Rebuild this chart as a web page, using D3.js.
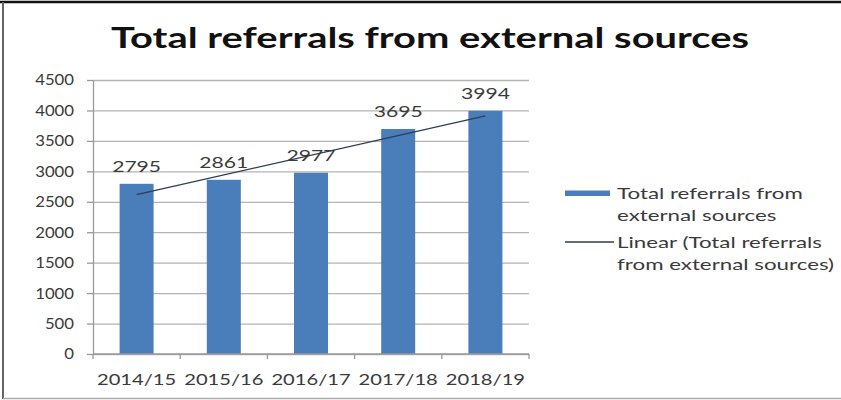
<!DOCTYPE html>
<html>
<head>
<meta charset="utf-8">
<script src="https://cdn.jsdelivr.net/npm/d3@7"></script>
<style>
  html, body { margin: 0; padding: 0; background: #fff; }
  svg { display: block; font-family: Lato, "Open Sans", sans-serif; }
</style>
</head>
<body>
<div id="chart"></div>
<script>
"use strict";

const years = ["2014/15", "2015/16", "2016/17", "2017/18", "2018/19"];
const referrals = [2795, 2861, 2977, 3695, 3994];
const yTicks = [0, 500, 1000, 1500, 2000, 2500, 3000, 3500, 4000, 4500];
const legendLabels = [
  ["Total referrals from", "external sources"],
  ["Linear (Total referrals", "from external sources)"],
];

const width = 841;
const height = 400;
const plot = { left: 93, right: 529, top: 80, bottom: 354 };
const barColor = "#4a7ebb";
const trendColor = "#2e3d50";
const textColor = "#3a3a3a";
// the source picture is stretched sideways, so text is widened to match
const stretch = 1.36;
const yLabelStretch = 1.08;

const svg = d3.select("#chart")
  .append("svg")
  .attr("width", width)
  .attr("height", height);

function wideText(parent, px, py, str, opts) {
  return parent.append("text")
    .attr("transform", `translate(${px},${py}) scale(${opts.scale || stretch},1)`)
    .attr("text-anchor", opts.anchor || "start")
    .attr("font-size", opts.size || 15.5)
    .attr("font-weight", opts.weight || 400)
    .attr("fill", opts.fill || textColor)
    .text(str);
}

// outer frame
svg.append("line").attr("x1", 0).attr("x2", width).attr("y1", 2).attr("y2", 2)
  .attr("stroke", "#111").attr("stroke-width", 2.5);
svg.append("line").attr("x1", 3).attr("x2", 3).attr("y1", 2).attr("y2", 399)
  .attr("stroke", "#666").attr("stroke-width", 2);
svg.append("line").attr("x1", 3).attr("x2", width).attr("y1", 398.5).attr("y2", 398.5)
  .attr("stroke", "#aaa").attr("stroke-width", 1.5);

wideText(svg, 430, 48, "Total referrals from external sources",
  { anchor: "middle", size: 28.5, weight: 700, fill: "#111", scale: 1.4 });

const x = d3.scaleBand()
  .domain(years)
  .range([plot.left, plot.right])
  .paddingInner(0.61)
  .paddingOuter(0.305);

const y = d3.scaleLinear()
  .domain([0, 4500])
  .range([plot.bottom, plot.top]);

// gridlines
svg.append("g")
  .attr("transform", `translate(${plot.left},0)`)
  .call(d3.axisLeft(y).tickValues(yTicks).tickSize(-(plot.right - plot.left)).tickFormat(""))
  .call((axis) => axis.select(".domain").remove())
  .call((axis) => axis.selectAll("line").attr("stroke", "#b4b4b4").attr("stroke-width", 1.3));

// y axis line, ticks and labels
const labelGap = 19;
svg.append("g")
  .attr("transform", `translate(${plot.left},0)`)
  .call(d3.axisLeft(y).tickValues(yTicks).tickSize(6).tickSizeOuter(0).tickFormat(d3.format("d")))
  .call((axis) => axis.select(".domain").attr("stroke", "#999").attr("stroke-width", 1.3))
  .call((axis) => axis.selectAll("line").attr("stroke", "#999").attr("stroke-width", 1.3))
  .call((axis) => axis.selectAll("text")
    .attr("x", -labelGap / yLabelStretch)
    .attr("transform", `scale(${yLabelStretch},1)`)
    .attr("fill", textColor)
    .attr("font-size", 15.5)
    .attr("font-family", "Lato, sans-serif"));

svg.selectAll("rect.bar")
  .data(referrals)
  .join("rect")
  .attr("class", "bar")
  .attr("x", (d, i) => x(years[i]))
  .attr("y", (d) => y(d))
  .attr("width", x.bandwidth())
  .attr("height", (d) => y(0) - y(d))
  .attr("fill", barColor);

// x axis with ticks at band boundaries
const step = x.step();
const boundaries = d3.range(years.length + 1).map((i) => plot.left + i * step);
svg.append("line")
  .attr("x1", plot.left).attr("x2", plot.right)
  .attr("y1", y(0)).attr("y2", y(0))
  .attr("stroke", "#999").attr("stroke-width", 1.3);
svg.selectAll("line.xtick")
  .data(boundaries)
  .join("line")
  .attr("class", "xtick")
  .attr("x1", (d) => d).attr("x2", (d) => d)
  .attr("y1", y(0)).attr("y2", y(0) + 5)
  .attr("stroke", "#999").attr("stroke-width", 1.3);

years.forEach((yr) => {
  wideText(svg, x(yr) + x.bandwidth() / 2, 385, yr, { anchor: "middle", size: 15.5, scale: 1.3 });
});

// linear trendline (least squares over category index)
const n = referrals.length;
const meanI = d3.mean(referrals, (d, i) => i);
const meanV = d3.mean(referrals);
const slope = d3.sum(referrals, (d, i) => (i - meanI) * (d - meanV)) /
  d3.sum(referrals, (d, i) => (i - meanI) ** 2);
const trend = years.map((yr, i) => ({ yr, v: meanV + slope * (i - meanI) }));

svg.append("path")
  .datum([trend[0], trend[n - 1]])
  .attr("fill", "none")
  .attr("stroke", trendColor)
  .attr("stroke-width", 1.3)
  .attr("d", d3.line().x((d) => x(d.yr) + x.bandwidth() / 2).y((d) => y(d.v)));

referrals.forEach((d, i) => {
  wideText(svg, x(years[i]) + x.bandwidth() / 2, y(d) - 12, d, { anchor: "middle", size: 15.5 });
});

// legend
const legend = svg.append("g").attr("transform", "translate(565,0)");
legend.append("rect")
  .attr("x", 0).attr("y", 190.5).attr("width", 45).attr("height", 5.5)
  .attr("fill", barColor);
legend.append("line")
  .attr("x1", 0).attr("x2", 49).attr("y1", 242).attr("y2", 242)
  .attr("stroke", trendColor).attr("stroke-width", 1.3);

legendLabels.forEach((lines, k) => {
  lines.forEach((line, j) => {
    wideText(legend, 52, 199 + k * 49 + j * 22, line, { size: 15.5, scale: 1.44 });
  });
});
</script>
</body>
</html>
